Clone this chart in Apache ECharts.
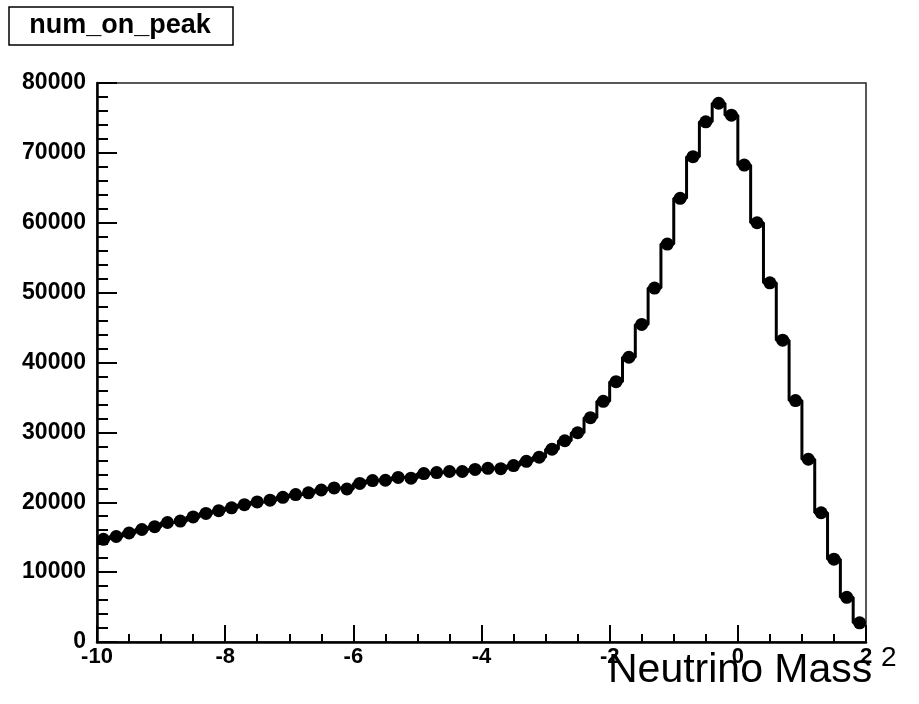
<!DOCTYPE html>
<html>
<head>
<meta charset="utf-8">
<script src="https://cdn.jsdelivr.net/npm/echarts@6/dist/echarts.min.js"></script>
<style>
  html, body { margin: 0; padding: 0; background: #fff; }
  #chart { width: 919px; height: 704px; }
</style>
</head>
<body>
<div id="chart"></div>
<script>
// histogram binning: 60 bins of 0.2 from -10 to 2
var binLow = -10
var binWidth = 0.2

// counts per bin
var counts = [
  14700, 15100, 15600, 16100, 16500, 17100, 17300, 17900, 18400, 18800,
  19200, 19650, 20050, 20300, 20700, 21100, 21350, 21750, 22050, 21900,
  22700, 23100, 23150, 23550, 23450, 24100, 24250, 24400, 24400, 24700,
  24850, 24800, 25250, 25850, 26450, 27600, 28800, 29950, 32100, 34450,
  37250, 40750, 45450, 50650, 56950, 63500, 69450, 74450, 77100, 75400,
  68250, 60000, 51400, 43200, 34550, 26150, 18500, 11850, 6400, 2750
]

var xTicks = [-10, -8, -6, -4, -2, 0, 2]
var yTicks = [0, 10000, 20000, 30000, 40000, 50000, 60000, 70000, 80000]

var font = '"Liberation Sans", Arial, Helvetica, sans-serif'

// step outline from bin edges, markers at bin centres
var stepData = counts.map(function (c, i) { return [binLow + binWidth * i, c] })
stepData.push([binLow + binWidth * counts.length, counts[counts.length - 1]])
var markerData = counts.map(function (c, i) { return [binLow + binWidth * (i + 0.5), c] })

var myChart = echarts.init(document.getElementById('chart'))

var option = {
  animation: false,
  backgroundColor: '#fff',
  grid: {
    left: 97, right: 53, top: 83, bottom: 62,
    show: true, borderColor: '#222', borderWidth: 1.5, backgroundColor: '#fff'
  },
  xAxis: {
    type: 'value',
    min: xTicks[0], max: xTicks[xTicks.length - 1], interval: 2,
    axisLine: { show: true, onZero: false, lineStyle: { color: '#000', width: 2.5 } },
    axisTick: { show: true, inside: true, length: 17, lineStyle: { color: '#000', width: 2 } },
    minorTick: { show: true, splitNumber: 4, length: 8, lineStyle: { color: '#000', width: 2 } },
    splitLine: { show: false },
    axisLabel: {
      show: true, margin: 4, color: '#000', fontSize: 22, fontWeight: 'bold', fontFamily: font,
      showMinLabel: true, showMaxLabel: true,
      formatter: function (v) { return String(v) }
    }
  },
  yAxis: {
    type: 'value',
    min: yTicks[0], max: yTicks[yTicks.length - 1], interval: 10000,
    axisLine: { show: true, onZero: false, lineStyle: { color: '#000', width: 2.5 } },
    axisTick: { show: true, inside: true, length: 20, lineStyle: { color: '#000', width: 2 } },
    minorTick: { show: true, splitNumber: 5, length: 11, lineStyle: { color: '#000', width: 2 } },
    splitLine: { show: false },
    axisLabel: {
      show: true, margin: 11, color: '#000', fontSize: 23, fontWeight: 'bold', fontFamily: font,
      formatter: function (v) { return String(v) }
    }
  },
  series: [
    {
      type: 'line',
      step: 'end',
      data: stepData,
      symbol: 'none',
      lineStyle: { color: '#000', width: 3 },
      z: 2
    },
    {
      type: 'scatter',
      data: markerData,
      symbol: 'circle',
      symbolSize: 13,
      itemStyle: { color: '#000', opacity: 1 },
      z: 3
    }
  ],
  graphic: [
    {
      type: 'rect',
      shape: { x: 9, y: 7, width: 224, height: 38 },
      style: { fill: '#fff', stroke: '#000', lineWidth: 1.5 }
    },
    {
      type: 'text',
      x: 120, y: 26,
      style: {
        text: 'num_on_peak', fill: '#000', font: 'bold 27px ' + font,
        align: 'center', verticalAlign: 'middle'
      }
    },
    {
      type: 'text',
      x: 608, y: 691,
      style: {
        text: 'Neutrino Mass', fill: '#000', font: '41px ' + font,
        align: 'left', verticalAlign: 'bottom'
      }
    },
    {
      type: 'text',
      x: 881, y: 672,
      style: {
        text: '2', fill: '#000', font: '28px ' + font,
        align: 'left', verticalAlign: 'bottom'
      }
    }
  ]
}

myChart.setOption(option)
</script>
</body>
</html>
